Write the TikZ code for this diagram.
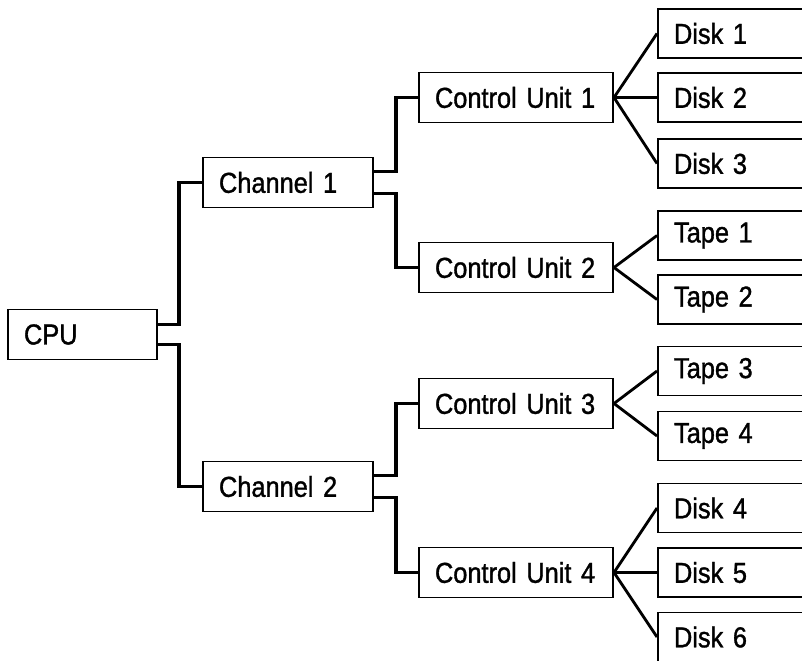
\documentclass[tikz,border=0pt]{standalone}
\usepackage{fontspec}
\setmainfont[FakeStretch=0.88,FakeBold=1.2,WordSpace=0.75]{Liberation Sans}
\usetikzlibrary{positioning}

\begin{document}
\begin{tikzpicture}[on grid,font=\fontsize{20.5}{24}\selectfont,
	box/.style={draw,line width=1.4pt,minimum height=1.25cm,inner xsep=0.4cm,inner ysep=0pt,align=left},
	cpubox/.style={box,text width=2.925cm},
	chbox/.style={box,text width=3.45cm},
	cubox/.style={box,text width=4.05cm},
	devbox/.style={box,text width=3.2cm,minimum height=1.225cm},
	link/.style={line width=2.2pt},
	fan/.style={line width=2pt}]
\useasboundingbox (0,0) rectangle (20.05,-16.5);
\clip (0,0) rectangle (20.05,-16.5);

\node[cpubox]	(cpu)		at (2.0625,-8.3625)						{CPU};
\node[chbox]	(ch1)		[above right=3.8cm and 5.1375cm of cpu]	{Channel 1};
\node[chbox]	(ch2)		[below right=3.8cm and 5.1375cm of cpu]	{Channel 2};
\node[cubox]	(cu1)		[above right=2.125cm and 5.7cm of ch1]	{Control Unit 1};
\node[cubox]	(cu2)		[below right=2.125cm and 5.7cm of ch1]	{Control Unit 2};
\node[cubox]	(cu3)		[above right=2.075cm and 5.7cm of ch2]	{Control Unit 3};
\node[cubox]	(cu4)		[below right=2.15cm and 5.7cm of ch2]	{Control Unit 4};

\node[devbox]	(disk1)		[above right=1.6cm and 5.55cm of cu1]	{Disk 1};
\node[devbox]	(disk2)		[right=5.55cm of cu1]					{Disk 2};
\node[devbox]	(disk3)		[below right=1.65cm and 5.55cm of cu1]	{Disk 3};
\node[devbox]	(tape1)		[above right=0.8cm and 5.55cm of cu2]	{Tape 1};
\node[devbox]	(tape2)		[below right=0.8cm and 5.55cm of cu2]	{Tape 2};
\node[devbox]	(tape3)		[above right=0.8125cm and 5.55cm of cu3]	{Tape 3};
\node[devbox]	(tape4)		[below right=0.8125cm and 5.55cm of cu3]	{Tape 4};
\node[devbox]	(disk4)		[above right=1.6125cm and 5.55cm of cu4]	{Disk 4};
\node[devbox]	(disk5)		[right=5.55cm of cu4]					{Disk 5};
\node[devbox]	(disk6)		[below right=1.6125cm and 5.55cm of cu4]	{Disk 6};

% cpu -> channels -> control units
\draw[link] ([yshift=0.26cm]cpu.east) -| ([xshift=-0.575cm]ch1.west) -- (ch1.west);
\draw[link] ([yshift=-0.26cm]cpu.east) -| ([xshift=-0.575cm]ch2.west) -- (ch2.west);
\draw[link] ([yshift=0.27cm]ch1.east) -| ([xshift=-0.55cm]cu1.west) -- (cu1.west);
\draw[link] ([yshift=-0.27cm]ch1.east) -| ([xshift=-0.55cm]cu2.west) -- (cu2.west);
\draw[link] ([yshift=0.27cm]ch2.east) -| ([xshift=-0.55cm]cu3.west) -- (cu3.west);
\draw[link] ([yshift=-0.27cm]ch2.east) -| ([xshift=-0.55cm]cu4.west) -- (cu4.west);

% control units -> devices
\path[fan]
(cu1.east)	edge	(disk1.west)
			edge	(disk2.west)
			edge	(disk3.west)
(cu2.east)	edge	(tape1.west)
			edge	(tape2.west)
(cu3.east)	edge	(tape3.west)
			edge	(tape4.west)
(cu4.east)	edge	(disk4.west)
			edge	(disk5.west)
			edge	(disk6.west)
;
\end{tikzpicture}
\end{document}
